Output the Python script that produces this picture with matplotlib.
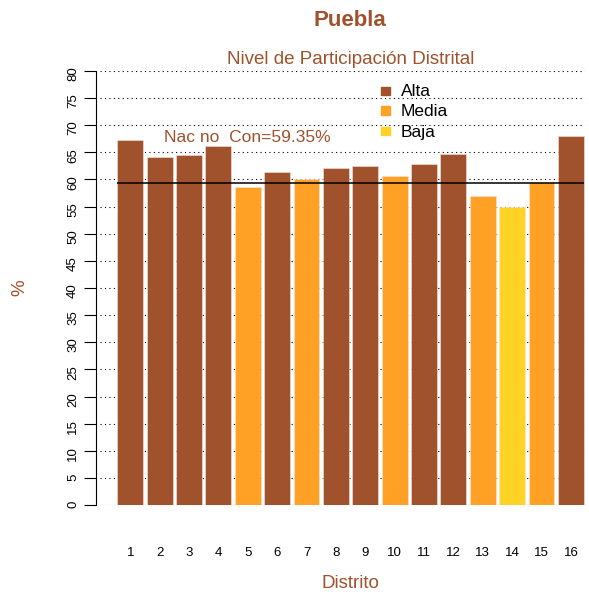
import matplotlib as mpl
mpl.use('Agg')
import matplotlib.pyplot as plt
import numpy as np

plt.rcParams['font.family'] = ['Liberation Sans', 'DejaVu Sans']

# data
distritos = [str(i) for i in range(1, 17)]
participacion = [67.3, 64.1, 64.6, 66.2, 58.7, 61.3, 60.0, 62.1,
                 62.4, 60.6, 62.8, 64.7, 57.0, 55.0, 59.6, 68.0]
nivel = ['Alta', 'Alta', 'Alta', 'Alta', 'Media', 'Alta', 'Media', 'Alta',
         'Alta', 'Media', 'Alta', 'Alta', 'Media', 'Baja', 'Media', 'Alta']
nacional = 59.35

colores = {'Alta': '#A0522D', 'Media': '#FFA124', 'Baja': '#FED325'}
brown = '#A0522D'

fig = plt.figure(figsize=(5.89, 5.94), dpi=100)
ax = fig.add_axes([100 / 589, (594 - 505) / 594, 485 / 589, 434 / 594])

x = np.arange(1, len(distritos) + 1)
ax.bar(x, participacion, width=0.88, color=[colores[n] for n in nivel],
       edgecolor='#f3e6e0', linewidth=0.4, zorder=2)

# grid
for yv in range(0, 81, 5):
    ax.axhline(yv, color='black', linestyle=(0, (1, 3)), linewidth=0.8, zorder=1)

ax.hlines(nacional, x[0] - 0.44, x[-1] + 0.44, color='black', linewidth=1.1, zorder=3)
ax.text(4.97, 67.8, f'Nac no  Con={nacional}%', color=brown, fontsize=12.5,
        ha='center', va='center', zorder=5)

ax.set_xlim(-0.03, 16.48)
ax.set_ylim(0, 80)
ax.set_xticks(x)
ax.set_xticklabels(distritos, fontsize=9.5)
ax.tick_params(axis='x', length=0, pad=30)
ax.set_yticks(range(0, 81, 5))
ax.tick_params(axis='y', length=9, labelsize=9.5, labelrotation=90, pad=3)
for lbl in ax.get_yticklabels():
    lbl.set_va('center')

for s in ['top', 'right', 'bottom']:
    ax.spines[s].set_visible(False)
ax.spines['left'].set_position(('outward', 3))
ax.spines['left'].set_bounds(0, 80)

# legend
for i, n in enumerate(['Alta', 'Media', 'Baja']):
    fig.patches.append(plt.Rectangle((381 / 589, (594 - 95 - i * 20) / 594),
                                     8.5 / 589, 8.5 / 594, transform=fig.transFigure,
                                     color=colores[n]))
    fig.text(401 / 589, (594 - 92 - i * 20) / 594, n, fontsize=12.5,
             va='center', ha='left', color='black')

fig.text(350 / 589, 1 - 21 / 594, 'Puebla', color=brown, fontsize=16,
         fontweight='bold', ha='center', va='center')
fig.text(351 / 589, 1 - 60 / 594, 'Nivel de Participación Distrital', color=brown,
         fontsize=13.5, ha='center', va='center')
fig.text(20 / 589, 1 - 288 / 594, '%', color=brown, fontsize=13.5,
         ha='center', va='center', rotation=90)
fig.text(350 / 589, 1 - 583 / 594, 'Distrito', color=brown, fontsize=13.5,
         ha='center', va='center')

fig.savefig('out.png', dpi=100)
plt.close()
